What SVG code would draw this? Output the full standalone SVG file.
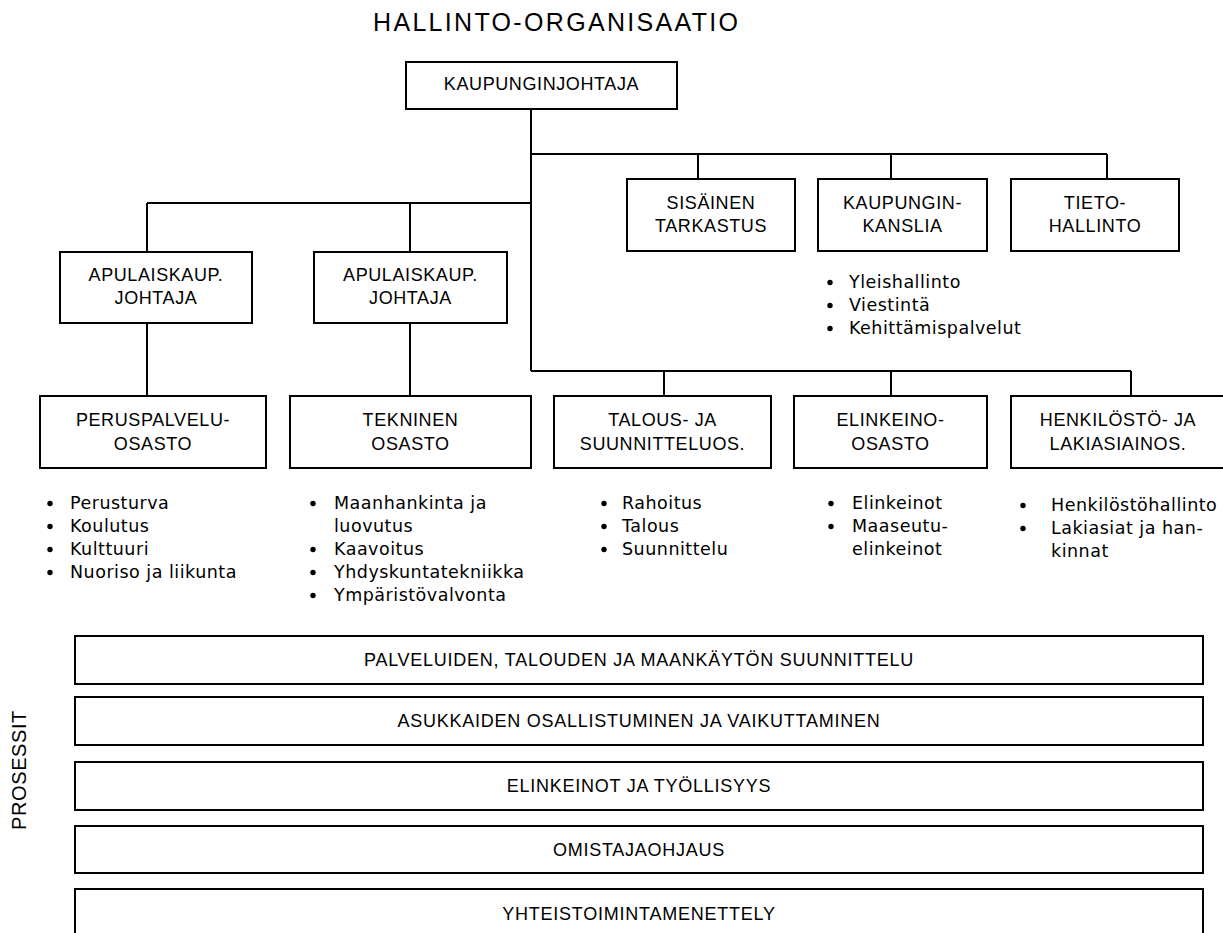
<svg xmlns="http://www.w3.org/2000/svg" width="1223" height="933" viewBox="0 0 1223 933">
<style>
.b{fill:#fff;stroke:#000;stroke-width:2}
.c{fill:none;stroke:#000;stroke-width:2}
.u{font-family:"Liberation Sans",Arial,sans-serif;font-size:18px;letter-spacing:0.6px;text-anchor:middle;fill:#000}
.p{font-family:"Liberation Sans",Arial,sans-serif;font-size:18px;letter-spacing:0.75px;text-anchor:middle;fill:#000}
.v{font-family:"Liberation Sans",Arial,sans-serif;font-size:20px;letter-spacing:0.6px;text-anchor:middle;fill:#000}
.l{font-family:"DejaVu Sans",sans-serif;font-size:17.5px;letter-spacing:0.5px;fill:#000}
.t{font-family:"Liberation Sans",Arial,sans-serif;font-size:25px;fill:#000}
.d{fill:#000}
</style>
<rect width="1223" height="933" fill="#fff"/>
<text class="t" x="373" y="31" textLength="365">HALLINTO-ORGANISAATIO</text>
<g id="connectors">
<path class="c" d="M531,109V371"/>
<path class="c" d="M531,154H1107M698,154V179M891,154V179M1107,154V179"/>
<path class="c" d="M147,203H531M147,203V252M410,203V252"/>
<path class="c" d="M147,323V396M410,323V396"/>
<path class="c" d="M531,371H1131M664,371V396M891,371V396M1131,371V396"/>
</g>
<g id="kaupunginjohtaja">
<rect class="b" x="406" y="62" width="271" height="47"/>
<text class="u" x="541.5" y="90">KAUPUNGINJOHTAJA</text>
</g>
<g id="sisainen">
<rect class="b" x="627" y="179" width="168" height="72"/>
<text class="u" x="711" y="209">SISÄINEN</text>
<text class="u" x="711" y="232">TARKASTUS</text>
</g>
<g id="kanslia">
<rect class="b" x="818" y="179" width="169" height="72"/>
<text class="u" x="902.5" y="209">KAUPUNGIN-</text>
<text class="u" x="902.5" y="232">KANSLIA</text>
</g>
<g id="tieto">
<rect class="b" x="1011" y="179" width="168" height="72"/>
<text class="u" x="1095" y="209">TIETO-</text>
<text class="u" x="1095" y="232">HALLINTO</text>
</g>
<g id="kanslia-list">
<circle class="d" cx="830" cy="282.5" r="2.7"/>
<circle class="d" cx="830" cy="305.5" r="2.7"/>
<circle class="d" cx="830" cy="328.5" r="2.7"/>
<text class="l" x="849" y="288">Yleishallinto</text>
<text class="l" x="849" y="311">Viestintä</text>
<text class="l" x="849" y="334">Kehittämispalvelut</text>
</g>
<g id="apulais1">
<rect class="b" x="60" y="252" width="192" height="71"/>
<text class="u" x="156" y="281">APULAISKAUP.</text>
<text class="u" x="156" y="304">JOHTAJA</text>
</g>
<g id="apulais2">
<rect class="b" x="314" y="252" width="193" height="71"/>
<text class="u" x="410.5" y="281">APULAISKAUP.</text>
<text class="u" x="410.5" y="304">JOHTAJA</text>
</g>
<g id="peruspalvelu">
<rect class="b" x="40" y="396" width="226" height="72"/>
<text class="u" x="153" y="426">PERUSPALVELU-</text>
<text class="u" x="153" y="450">OSASTO</text>
<circle class="d" cx="50" cy="503.5" r="2.7"/>
<circle class="d" cx="50" cy="526.5" r="2.7"/>
<circle class="d" cx="50" cy="549.5" r="2.7"/>
<circle class="d" cx="50" cy="572.5" r="2.7"/>
<text class="l" x="70" y="509">Perusturva</text>
<text class="l" x="70" y="532">Koulutus</text>
<text class="l" x="70" y="555">Kulttuuri</text>
<text class="l" x="70" y="578">Nuoriso ja liikunta</text>
</g>
<g id="tekninen">
<rect class="b" x="290" y="396" width="241" height="72"/>
<text class="u" x="410.5" y="426">TEKNINEN</text>
<text class="u" x="410.5" y="450">OSASTO</text>
<circle class="d" cx="313" cy="503.5" r="2.7"/>
<circle class="d" cx="313" cy="549.5" r="2.7"/>
<circle class="d" cx="313" cy="572.5" r="2.7"/>
<circle class="d" cx="313" cy="595.5" r="2.7"/>
<text class="l" x="334" y="509">Maanhankinta ja</text>
<text class="l" x="334" y="532">luovutus</text>
<text class="l" x="334" y="555">Kaavoitus</text>
<text class="l" x="334" y="578">Yhdyskuntatekniikka</text>
<text class="l" x="334" y="601">Ympäristövalvonta</text>
</g>
<g id="talous">
<rect class="b" x="554" y="396" width="217" height="72"/>
<text class="u" x="662.5" y="426">TALOUS- JA</text>
<text class="u" x="662.5" y="450">SUUNNITTELUOS.</text>
<circle class="d" cx="604" cy="503.5" r="2.7"/>
<circle class="d" cx="604" cy="526.5" r="2.7"/>
<circle class="d" cx="604" cy="549.5" r="2.7"/>
<text class="l" x="622" y="509">Rahoitus</text>
<text class="l" x="622" y="532">Talous</text>
<text class="l" x="622" y="555">Suunnittelu</text>
</g>
<g id="elinkeino">
<rect class="b" x="794" y="396" width="193" height="72"/>
<text class="u" x="890.5" y="426">ELINKEINO-</text>
<text class="u" x="890.5" y="450">OSASTO</text>
<circle class="d" cx="831" cy="503.5" r="2.7"/>
<circle class="d" cx="831" cy="526.5" r="2.7"/>
<text class="l" x="852" y="509">Elinkeinot</text>
<text class="l" x="852" y="532">Maaseutu-</text>
<text class="l" x="852" y="555">elinkeinot</text>
</g>
<g id="henkilosto">
<rect class="b" x="1011" y="396" width="215" height="72"/>
<text class="u" x="1118" y="426">HENKILÖSTÖ- JA</text>
<text class="u" x="1118" y="450">LAKIASIAINOS.</text>
<circle class="d" cx="1023" cy="505.5" r="2.7"/>
<circle class="d" cx="1023" cy="528.5" r="2.7"/>
<text class="l" x="1051" y="511">Henkilöstöhallinto</text>
<text class="l" x="1051" y="534">Lakiasiat ja han-</text>
<text class="l" x="1051" y="557">kinnat</text>
</g>
<g id="prosessit">
<text class="v" transform="translate(26,770) rotate(-90)" x="0" y="0">PROSESSIT</text>
<g id="p1">
<rect class="b" x="75" y="636" width="1128" height="48"/>
<text class="p" x="639" y="666">PALVELUIDEN, TALOUDEN JA MAANKÄYTÖN SUUNNITTELU</text>
</g>
<g id="p2">
<rect class="b" x="75" y="697" width="1128" height="48"/>
<text class="p" x="639" y="727">ASUKKAIDEN OSALLISTUMINEN JA VAIKUTTAMINEN</text>
</g>
<g id="p3">
<rect class="b" x="75" y="762" width="1128" height="48"/>
<text class="p" x="639" y="792">ELINKEINOT JA TYÖLLISYYS</text>
</g>
<g id="p4">
<rect class="b" x="75" y="826" width="1128" height="47"/>
<text class="p" x="639" y="856">OMISTAJAOHJAUS</text>
</g>
<g id="p5">
<rect class="b" x="75" y="889" width="1128" height="60"/>
<text class="p" x="639" y="920">YHTEISTOIMINTAMENETTELY</text>
</g>
</g>
</svg>
